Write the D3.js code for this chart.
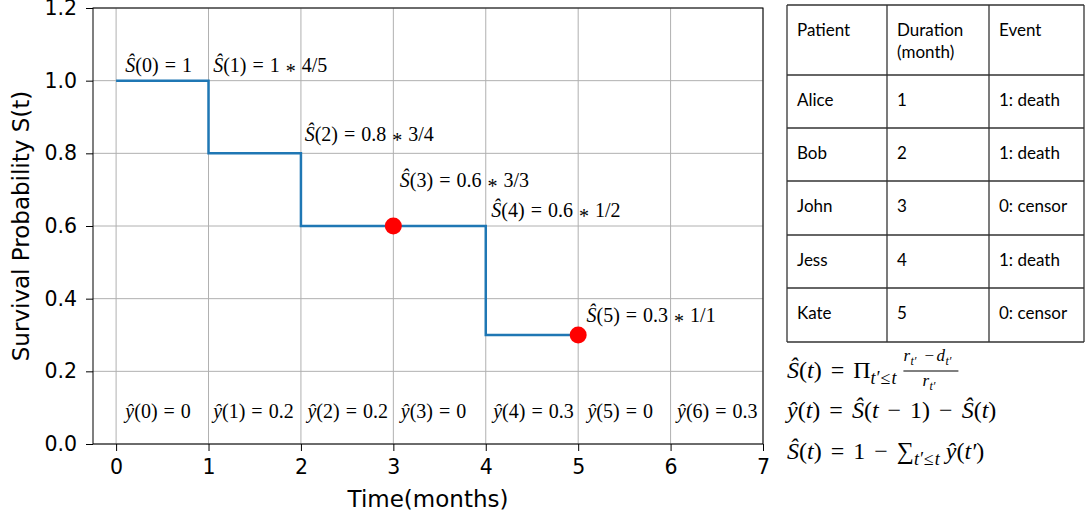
<!DOCTYPE html>
<html>
<head>
<script src="https://d3js.org/d3.v7.min.js"></script>
<style>
  body { margin: 0; background: #ffffff; }
  svg { display: block; }
  .math { font-family: 'Liberation Serif', serif; font-size: 20px; fill: #000; }
  .cell { font-family: Lato, 'Open Sans', sans-serif; font-size: 17px; fill: #000; }
</style>
</head>
<body>
<script>
// chart data
const times = [0, 1, 2, 3, 4, 5];
const survival = [1, 0.8, 0.6, 0.6, 0.3, 0.3];
const censorTimes = [3, 5];
const censorValues = [0.6, 0.3];

// annotations (anchored in data units, like matplotlib text)
const sLabels = ["Ŝ(0) = 1", "Ŝ(1) = 1 * 4/5", "Ŝ(2) = 0.8 * 3/4", "Ŝ(3) = 0.6 * 3/3", "Ŝ(4) = 0.6 * 1/2", "Ŝ(5) = 0.3 * 1/1"];
const sLabelX = [0.1, 1.05, 2.04, 3.07, 4.06, 5.09];
const sLabelY = [1.025, 1.025, 0.833, 0.707, 0.625, 0.336];
const yHatLabels = ["ŷ(0) = 0", "ŷ(1) = 0.2", "ŷ(2) = 0.2", "ŷ(3) = 0", "ŷ(4) = 0.3", "ŷ(5) = 0", "ŷ(6) = 0.3"];
const yHatX = [0.1, 1.05, 2.07, 3.08, 4.08, 5.1, 6.07];
const yHatY = 0.072;

const xTicks = [0, 1, 2, 3, 4, 5, 6, 7];
const yTicks = [0, 0.2, 0.4, 0.6, 0.8, 1.0, 1.2];

// table
const headers = ["Patient", "Duration\n(month)", "Event"];
const patients = ["Alice", "Bob", "John", "Jess", "Kate"];
const durations = [1, 2, 3, 4, 5];
const events = ["1: death", "1: death", "0: censor", "1: death", "0: censor"];

const width = 1085, height = 516;
const svg = d3.select("body").append("svg").attr("width", width).attr("height", height);

const x = d3.scaleLinear().domain([-0.25, 7]).range([93, 763]);
const y = d3.scaleLinear().domain([0, 1.2]).range([444, 8]);

// grid
svg.append("g").selectAll("line").data(xTicks).join("line")
  .attr("x1", d => x(d)).attr("x2", d => x(d)).attr("y1", y(0)).attr("y2", y(1.2))
  .attr("stroke", "#b0b0b0").attr("stroke-width", 1);
svg.append("g").selectAll("line").data(yTicks).join("line")
  .attr("x1", x(-0.25)).attr("x2", x(7)).attr("y1", d => y(d)).attr("y2", d => y(d))
  .attr("stroke", "#b0b0b0").attr("stroke-width", 1);

// axes
const xAxis = svg.append("g").attr("transform", `translate(0,${y(0)})`)
  .call(d3.axisBottom(x).tickValues(xTicks).tickSize(7).tickPadding(8).tickFormat(d3.format("d")));
const yAxis = svg.append("g").attr("transform", `translate(${x(-0.25)},0)`)
  .call(d3.axisLeft(y).tickValues(yTicks).tickSize(7).tickPadding(9).tickFormat(d3.format(".1f")));
[xAxis, yAxis].forEach(a => {
  a.select(".domain").remove();
  a.selectAll(".tick line").attr("stroke", "#000").attr("stroke-width", 1);
  a.selectAll(".tick text").attr("fill", "#000")
    .style("font-family", "'DejaVu Sans', sans-serif").style("font-size", "20.5px");
});
// frame
svg.append("rect").attr("x", x(-0.25)).attr("y", y(1.2))
  .attr("width", x(7) - x(-0.25)).attr("height", y(0) - y(1.2))
  .attr("fill", "none").attr("stroke", "#000").attr("stroke-width", 1);

svg.append("text").attr("x", x(3.375)).attr("y", 507).attr("text-anchor", "middle")
  .style("font-family", "'DejaVu Sans', sans-serif").style("font-size", "23px").text("Time(months)");
svg.append("text").attr("transform", `translate(29,${y(0.6)}) rotate(-90)`).attr("text-anchor", "middle")
  .style("font-family", "'DejaVu Sans', sans-serif").style("font-size", "23px").text("Survival Probability S(t)");

// step curve
const pts = times.map((t, i) => [t, survival[i]]);
svg.append("path").datum(pts)
  .attr("d", d3.line().x(d => x(d[0])).y(d => y(d[1])).curve(d3.curveStepAfter))
  .attr("fill", "none").attr("stroke", "#1f77b4").attr("stroke-width", 2.5);

svg.append("g").selectAll("circle").data(censorTimes).join("circle")
  .attr("cx", d => x(d)).attr("cy", (d, i) => y(censorValues[i])).attr("r", 8.5).attr("fill", "#ff0000");

// math-ish text: letters italic, rest roman, spacing around operators,
// '*' lowered to the math axis
function mathText(g, str, gap) {
  const toks = str.match(/[A-Za-zŜŷ]+|[0-9.]+|\s+|./g).filter(t => !/^\s+$/.test(t));
  let shift = 0, prevOp = false;
  toks.forEach(tk => {
    const ts = g.append("tspan").text(tk);
    const isOp = /^[=*−+]$/.test(tk);
    if (/^[A-Za-zŜŷ]+$/.test(tk)) ts.style("font-style", "italic");
    if (isOp || prevOp) ts.attr("dx", gap);
    const want = tk === "*" ? 6 : 0;
    if (want !== shift) { ts.attr("dy", want - shift); shift = want; }
    prevOp = isOp;
  });
}

sLabels.forEach((s, i) => {
  const t = svg.append("text").attr("class", "math").attr("x", x(sLabelX[i])).attr("y", y(sLabelY[i]));
  mathText(t, s, 6);
});
yHatLabels.forEach((s, i) => {
  const t = svg.append("text").attr("class", "math").attr("x", x(yHatX[i])).attr("y", y(yHatY));
  mathText(t, s, 6);
});

// table
const colX = [787, 887, 989, 1084];
const rowY = [5, 75, 128, 181, 235, 288, 342];
const tb = svg.append("g");
colX.forEach(cx => tb.append("line").attr("x1", cx).attr("x2", cx).attr("y1", rowY[0]).attr("y2", rowY[rowY.length - 1])
  .attr("stroke", "#333").attr("stroke-width", 1.3));
rowY.forEach(ry => tb.append("line").attr("x1", colX[0]).attr("x2", colX[3]).attr("y1", ry).attr("y2", ry)
  .attr("stroke", "#333").attr("stroke-width", 1.3));
headers.forEach((h, j) => {
  h.split("\n").forEach((ln, k) => {
    tb.append("text").attr("class", "cell").attr("x", colX[j] + 10).attr("y", 36 + k * 22).text(ln);
  });
});
patients.forEach((p, i) => {
  const by = rowY[i + 1] + 31;
  [p, durations[i], events[i]].forEach((v, j) => {
    tb.append("text").attr("class", "cell").attr("x", colX[j] + 10).attr("y", by).text(v);
  });
});

// formulas
const fm = svg.append("g").style("font-family", "'Liberation Serif', serif").style("font-size", "24px");
function seg(parent, txt, opts = {}) {
  const ts = parent.append("tspan").text(txt);
  if (opts.it) ts.style("font-style", "italic");
  if (opts.size) ts.style("font-size", opts.size + "px");
  if (opts.dx) ts.attr("dx", opts.dx);
  if (opts.dy) ts.attr("dy", opts.dy);
  return ts;
}
// line 1
const f1 = fm.append("text").attr("x", 787).attr("y", 378);
seg(f1, "Ŝ", { it: true }); seg(f1, "("); seg(f1, "t", { it: true }); seg(f1, ")");
seg(f1, "=", { dx: 9 }); seg(f1, "Π", { dx: 9 });
seg(f1, "t′", { it: true, size: 18, dy: 6 }); seg(f1, "≤", { size: 18, dx: 1 }); seg(f1, "t", { it: true, size: 18, dx: 1 });
const bb = f1.node().getBBox();
const fx = bb.x + bb.width + 6;
const fr = fm.append("g").style("font-size", "17px").style("font-style", "italic");
fr.append("text").attr("x", fx).attr("y", 361).text("r");
fr.append("text").attr("x", fx + 7).attr("y", 365).style("font-size", "12px").text("t′");
fr.append("text").attr("x", fx + 21).attr("y", 361).style("font-style", "normal").text("−");
fr.append("text").attr("x", fx + 33).attr("y", 361).text("d");
fr.append("text").attr("x", fx + 42).attr("y", 365).style("font-size", "12px").text("t′");
fm.append("line").attr("x1", fx).attr("x2", fx + 55).attr("y1", 371).attr("y2", 371).attr("stroke", "#000").attr("stroke-width", 1);
fr.append("text").attr("x", fx + 19).attr("y", 386).text("r");
fr.append("text").attr("x", fx + 26).attr("y", 390).style("font-size", "12px").text("t′");
// line 2
const f2 = fm.append("text").attr("x", 787).attr("y", 418);
seg(f2, "ŷ", { it: true }); seg(f2, "("); seg(f2, "t", { it: true }); seg(f2, ")");
seg(f2, "=", { dx: 9 }); seg(f2, "Ŝ", { it: true, dx: 9 }); seg(f2, "("); seg(f2, "t", { it: true });
seg(f2, "−", { dx: 9 }); seg(f2, "1", { dx: 9 }); seg(f2, ")"); seg(f2, "−", { dx: 9 });
seg(f2, "Ŝ", { it: true, dx: 9 }); seg(f2, "("); seg(f2, "t", { it: true }); seg(f2, ")");
// line 3
const f3 = fm.append("text").attr("x", 787).attr("y", 459);
seg(f3, "Ŝ", { it: true }); seg(f3, "("); seg(f3, "t", { it: true }); seg(f3, ")");
seg(f3, "=", { dx: 9 }); seg(f3, "1", { dx: 9 }); seg(f3, "−", { dx: 9 });
seg(f3, "∑", { dx: 9 });
seg(f3, "t′", { it: true, size: 18, dy: 6 }); seg(f3, "≤", { size: 18, dx: 1 }); seg(f3, "t", { it: true, size: 18, dx: 1 });
seg(f3, "ŷ", { it: true, dy: -6, dx: 6 }); seg(f3, "("); seg(f3, "t′", { it: true }); seg(f3, ")");
</script>
</body>
</html>
